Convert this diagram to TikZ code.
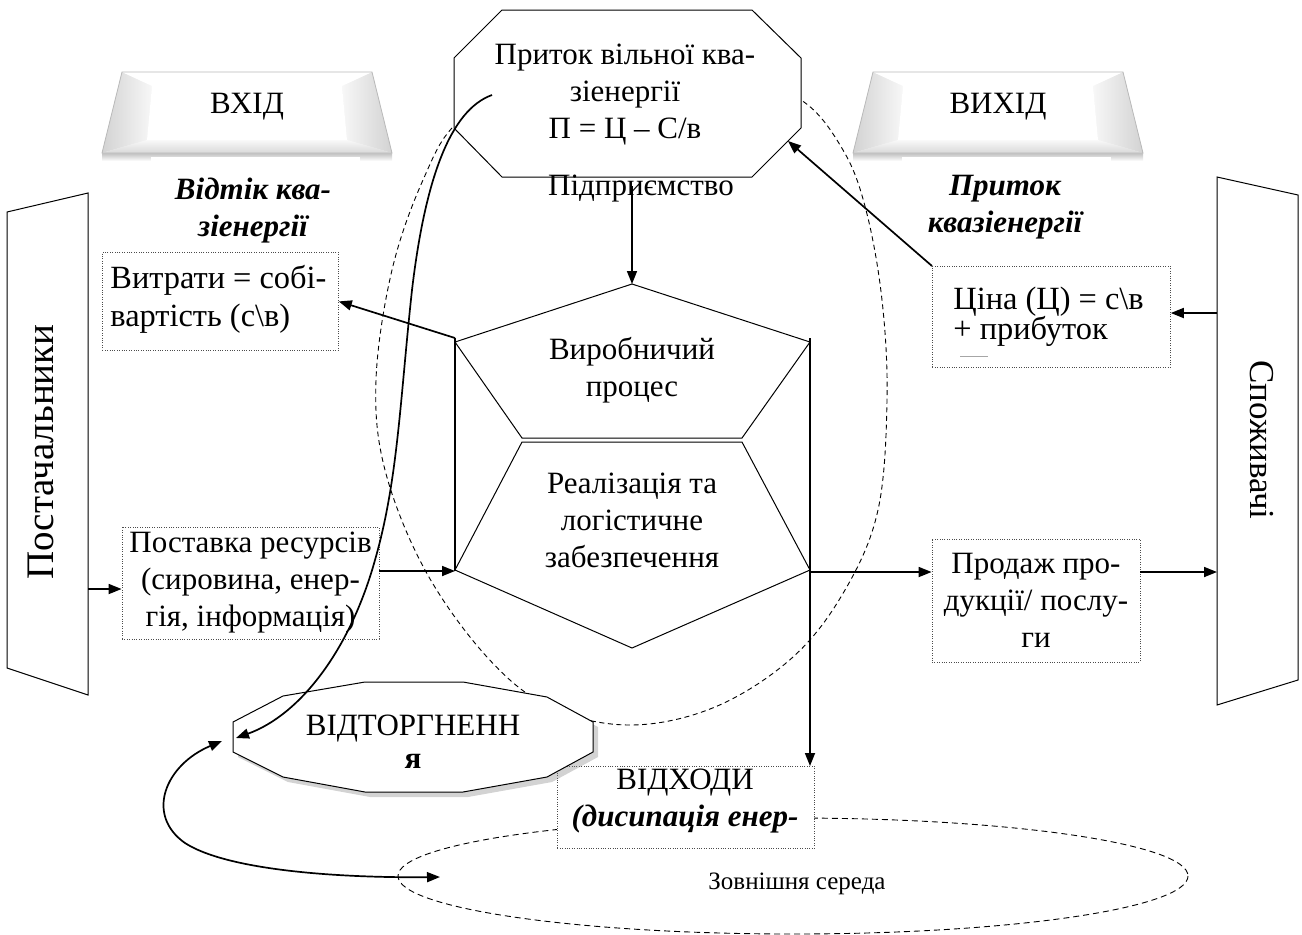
\documentclass[tikz,border=0pt]{standalone}
\usepackage{fontspec}
\setmainfont{Liberation Serif}
\usetikzlibrary{arrows.meta,shadows,calc}
\begin{document}
\begin{tikzpicture}[x=0.5pt,y=-0.5pt,
  txt/.style={font=\fontsize{15.5}{18.5}\selectfont, align=center, inner sep=0pt},
  txtb/.style={font=\fontsize{16.2}{19}\selectfont, align=left, inner sep=0pt},
  hd/.style={font=\fontsize{15.5}{18.5}\selectfont\bfseries\itshape, align=center, inner sep=0pt},
  shp/.style={draw=black, line width=0.5pt, fill=white},
  dotbox/.style={draw=black!70, line width=0.4pt, dash pattern=on 0.5pt off 0.7pt, fill=white, inner sep=0pt},
  arr/.style={-{Triangle[length=6.5pt,width=5pt]}, line width=0.85pt},
  dblarr/.style={{Triangle[length=6.5pt,width=5pt]}-{Triangle[length=6.5pt,width=5pt]}, line width=0.85pt},
  dashline/.style={line width=0.45pt, dash pattern=on 3pt off 2pt},
  bannerpic/.pic={
    \shade[top color=gray!50, bottom color=white] (-145,41) rectangle (145,49);
    \fill[white] (-96,45) rectangle (113,53);
    \fill[gray!10] (-125,-40) -- (125,-40) -- (145,41) -- (-145,41) -- cycle;
    \shade[left color=gray!35, right color=gray!6] (-125,-40) -- (-95,-26) -- (-100,28) -- (-145,41) -- cycle;
    \shade[right color=gray!35, left color=gray!6] (125,-40) -- (95,-26) -- (100,28) -- (145,41) -- cycle;
    \fill[white] (-125,-40) -- (125,-40) -- (95,-26) -- (-95,-26) -- cycle;
    \shade[top color=gray!5, bottom color=gray!30] (-145,41) -- (-100,28) -- (100,28) -- (145,41) -- cycle;
    \fill[white] (-95,-26) -- (95,-26) -- (100,28) -- (-100,28) -- cycle;
    \draw[gray!55, line width=0.4pt] (-125,-40) -- (125,-40) -- (145,41) -- (-145,41) -- cycle;
  },
]
\useasboundingbox (0,0) rectangle (1302,934);

% enterprise dashed contour
\draw[dashline, dash pattern=on 2.5pt off 1.8pt] plot[smooth cycle, tension=0.6] coordinates {(630,68) (730,78) (801,100) (843,150) (866,210) (882,300) (887,400) (878,510) (845,590) (793,657) (715,707) (630,725) (550,707) (487,657) (425,570) (385,470) (376,380) (392,270) (423,180) (458,122) (530,82)};

% external environment
\draw[dashline] (793,876) ellipse [x radius=395, y radius=58];
\node[font=\fontsize{12.5}{15}\selectfont, inner sep=0pt] (env) at (797,884) {Зовнішня середа};

% banners
\pic at (247,112) {bannerpic};
\node[txt] (vkhid) at (247,107) {ВХІД};
\pic at (998,112) {bannerpic};
\node[txt] (vykhid) at (998,107) {ВИХІД};

% top octagon
\draw[shp] (502,10) -- (752,10) -- (801,58) -- (801,128) -- (752,177) -- (502,177) -- (454,128) -- (454,58) -- cycle;
\node[txt] (pryt) at (625,95) {Приток вільної ква-\\зіенергії\\П = Ц – С/в};
\coordinate (octR) at (788,141);
\coordinate (curveStart) at (492,95);
\node[txt] (pidpr) at (641,189) {Підприємство};
\coordinate (arrS) at (632,186);

% suppliers / consumers
\draw[shp] (7,212) -- (88,193) -- (88,695) -- (7,668) -- cycle;
\node[font=\fontsize{19.5}{22}\selectfont, rotate=90, inner sep=0pt] (postT) at (41,452) {Постачальники};
\coordinate (postR) at (88,589);
\draw[shp] (1217,177) -- (1298,195) -- (1298,680) -- (1217,705) -- cycle;
\node[font=\fontsize{17.5}{20}\selectfont, rotate=-90, inner sep=0pt] (spozhT) at (1262,440) {Споживачі};
\coordinate (spU) at (1217,313);
\coordinate (spL) at (1217,572);

% headings
\node[hd] (vidtik) at (253,211) {Відтік ква-\\зіенергії};
\node[hd] (prytok) at (1005,207) {Приток\\квазіенергії};

% boxes
\node[dotbox, minimum width=118pt, minimum height=49pt, anchor=north west] (vytr) at (102,252) {};
\node[txtb, anchor=west] (vytrT) at (110,299) {Витрати = собі-\\вартість (с\textbackslash в)};

\node[dotbox, minimum width=119pt, minimum height=50.5pt, anchor=north west] (tsina) at (932,266) {};
\node[txtb, anchor=base west] (tsina1) at (953,309) {Ціна (Ц) = с\textbackslash в};
\node[txtb, anchor=base west] (tsina2) at (953,339) {+ прибуток};
\draw[gray!70, line width=0.35pt] (960,356) -- (988,356);

\node[dotbox, txt, minimum width=128.5pt, minimum height=56pt] (post) at (250.5,583) {Поставка ресурсів\\(сировина, енер-\\гія, інформація)};
\node[dotbox, txt, minimum width=104pt, minimum height=61.5pt] (prod) at (1036,600.5) {Продаж про-\\дукції/ послу-\\ги};

\node[dotbox, minimum width=128.5pt, minimum height=41pt, anchor=north west] (vidkh) at (557,766) {};
\node[txt] (vidkhT) at (685,783) {ВІДХОДИ};
\node[hd] (vidkhD) at (685,819) {(дисипація енер-};

% central shape
\coordinate (topv) at (632,284);
\draw[shp] (632,284) -- (810,342) -- (742,438) -- (522,438) -- (455,342) -- cycle;
\draw[shp] (522,442) -- (742,442) -- (810,570) -- (632,648) -- (455,570) -- cycle;
\node[txt] (vyrob) at (632,370) {Виробничий\\процес};
\node[txt] (real) at (632,520) {Реалізація та\\логістичне\\забезпечення};
\coordinate (lTop) at (455,338);
\coordinate (lBot) at (455,571);
\coordinate (rTop) at (810,338);
\coordinate (rMid) at (810,572);
\draw[line width=0.85pt] (lTop) -- (lBot);

% rejection
\draw[shp, drop shadow={opacity=0.35, shadow xshift=2.5pt, shadow yshift=-2.5pt}] (233,722) -- (283,696) -- (365,682) -- (463,682) -- (547,697) -- (593,722) -- (593,752) -- (547,777) -- (463,792) -- (365,792) -- (283,777) -- (233,752) -- cycle;
\node[txt, anchor=base] (vt1) at (413,735) {ВІДТОРГНЕНН};
\node[txt, anchor=base, font=\fontsize{15.5}{18.5}\selectfont\bfseries] (vt2) at (413,768) {я};
\coordinate (vtL) at (236,738);
\coordinate (vtL2) at (222,741);
\coordinate (envL) at (440,877);

% connectors
\draw[arr] (arrS) -- (topv);
\draw[arr] (lTop) -- (vytr.east);
\draw[arr] (postR) -- (post.west |- postR);
\draw[arr] (post.east |- lBot) -- (lBot);
\draw[arr] (rMid) -- (prod.west |- rMid);
\draw[arr] (prod.east |- spL) -- (spL);
\draw[arr] (spU) -- (tsina.east |- spU);
\draw[arr] (tsina.north west) -- (octR);
\draw[line width=0.85pt] (rTop) -- (rMid);
\draw[arr] (rMid) -- (rMid |- vidkh.north);

\draw[arr] (curveStart) .. controls (450,110) and (425,180) .. (412,290) .. controls (400,400) and (398,480) .. (375,560) .. controls (350,650) and (300,715) .. (vtL);
\draw[dblarr] (vtL2) .. controls (165,765) and (145,815) .. (185,843) .. controls (230,872) and (350,878) .. (envL);
\end{tikzpicture}
\end{document}
